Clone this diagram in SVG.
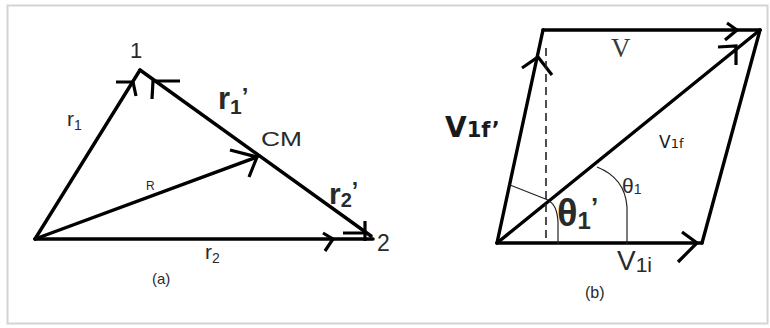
<svg xmlns="http://www.w3.org/2000/svg" width="770" height="328" viewBox="0 0 770 328">
  <style>
    .vec { stroke: #000; stroke-width: 3.4; fill: none; stroke-linecap: round; stroke-linejoin: round; }
    .head { stroke: #000; stroke-width: 3.2; fill: none; stroke-linecap: butt; stroke-linejoin: miter; }
    .thin { stroke: #222; stroke-width: 1.2; fill: none; }
    .dash { stroke: #222; stroke-width: 1.6; fill: none; stroke-dasharray: 8 5; }
    .lbl { font-family: "Liberation Sans", Arial, sans-serif; fill: #2a2a2a; }
    .dv { font-family: "DejaVu Sans", Verdana, sans-serif; fill: #1a1a1a; }
    .ser { font-family: "Liberation Serif", "Times New Roman", serif; fill: #3a3a3a; }
    .b { font-weight: bold; }
  </style>
  <rect x="0" y="0" width="770" height="328" fill="#ffffff"/>
  <rect x="7.5" y="5.5" width="760" height="318" fill="none" stroke="#d4d4d4" stroke-width="2"/>

  <g id="connectors">
    <!-- panel (a) -->
    <g id="vec-r1"><line class="vec" x1="35" y1="239" x2="140" y2="70"/><path class="head" d="M116,82 L133,82 L136,96"/></g>
    <g id="vec-r1p"><line class="vec" x1="371" y1="236" x2="140" y2="70"/><path class="head" d="M180,81 L153,81 L152,99"/></g>
    <g id="vec-R"><line class="vec" x1="35" y1="239" x2="257" y2="157"/><path class="head" d="M230,150 L257,157 L249,177"/></g>
    <g id="vec-r2"><line class="vec" x1="35" y1="239" x2="373" y2="239"/><path class="head" d="M323,233 L333,239 L325,251"/></g>
    <g id="vec-r2p"><path class="head" d="M343,233 L364,233 M365,221 L365,241"/></g>
    <!-- panel (b) -->
    <g id="vec-v1i"><line class="vec" x1="497" y1="243" x2="702" y2="243"/><path class="head" d="M682,232 L697,243 L678,262"/></g>
    <g id="side-right"><line class="vec" x1="702" y1="243" x2="760" y2="30"/></g>
    <g id="vec-V"><line class="vec" x1="543" y1="30" x2="760" y2="30"/><path class="head" d="M727,23 L737,30 L725,40"/></g>
    <g id="vec-v1fp"><line class="vec" x1="497" y1="243" x2="543" y2="30"/><path class="head" d="M522,68 L538,57 L552,75"/></g>
    <g id="vec-v1f"><line class="vec" x1="497" y1="243" x2="760" y2="30"/><path class="head" d="M718,47 L736,46 L736,65"/></g>
    <line class="dash" x1="546" y1="48" x2="546" y2="243"/>
    <line class="thin" x1="510" y1="185" x2="548" y2="200"/>
    <path class="thin" d="M549,201 Q557,205 558,222 L558,244"/>
    <path class="thin" d="M597,167 Q625,178 627,207 L627,244"/>
  </g>

  <g id="node-1"><text class="lbl" x="136" y="58" font-size="22" text-anchor="middle">1</text></g>
  <g id="node-2"><text class="lbl" x="377" y="251" font-size="23">2</text></g>
  <g id="node-CM"><text class="lbl" x="261" y="146" font-size="21" textLength="41" lengthAdjust="spacingAndGlyphs" fill="#333">CM</text></g>
  <g id="label-r1"><text class="lbl" x="67" y="126" font-size="21">r<tspan font-size="14" dy="4">1</tspan></text></g>
  <g id="label-r1p"><text class="lbl b" x="218" y="109" font-size="31" fill="#111">r<tspan font-size="21" dy="5">1</tspan><tspan font-size="24" dy="-9">’</tspan></text></g>
  <g id="label-R"><text class="lbl" x="146" y="190" font-size="12" fill="#555">R</text></g>
  <g id="label-r2p"><text class="lbl b" x="329" y="204" font-size="30" fill="#111">r<tspan font-size="20" dy="3">2</tspan><tspan font-size="23" dy="-8">’</tspan></text></g>
  <g id="label-r2"><text class="lbl" x="205" y="259" font-size="21">r<tspan font-size="14" dy="4">2</tspan></text></g>
  <g id="label-a"><text class="lbl" x="152" y="284" font-size="15" fill="#444">(a)</text></g>

  <g id="label-V"><text class="ser" x="611" y="57" font-size="27">V</text></g>
  <g id="label-v1fp"><text class="dv b" x="445" y="137" font-size="28">V<tspan font-size="21">1f’</tspan></text></g>
  <g id="label-v1f"><text class="dv" x="659" y="148" font-size="17" fill="#444">V<tspan font-size="13">1f</tspan></text></g>
  <g id="label-theta1"><text class="lbl" x="622" y="193" font-size="21" fill="#333">θ<tspan font-size="14" dy="1">1</tspan></text></g>
  <g id="label-theta1p"><text class="lbl b" x="557" y="226" font-size="38" fill="#111">θ<tspan font-size="24" dy="3">1</tspan><tspan font-size="26" dy="-13">’</tspan></text></g>
  <g id="label-v1i"><text class="lbl" x="617" y="270" font-size="28" fill="#222">V<tspan font-size="21" dy="2">1i</tspan></text></g>
  <g id="label-b"><text class="lbl" x="585" y="298" font-size="16" fill="#444">(b)</text></g>
</svg>
